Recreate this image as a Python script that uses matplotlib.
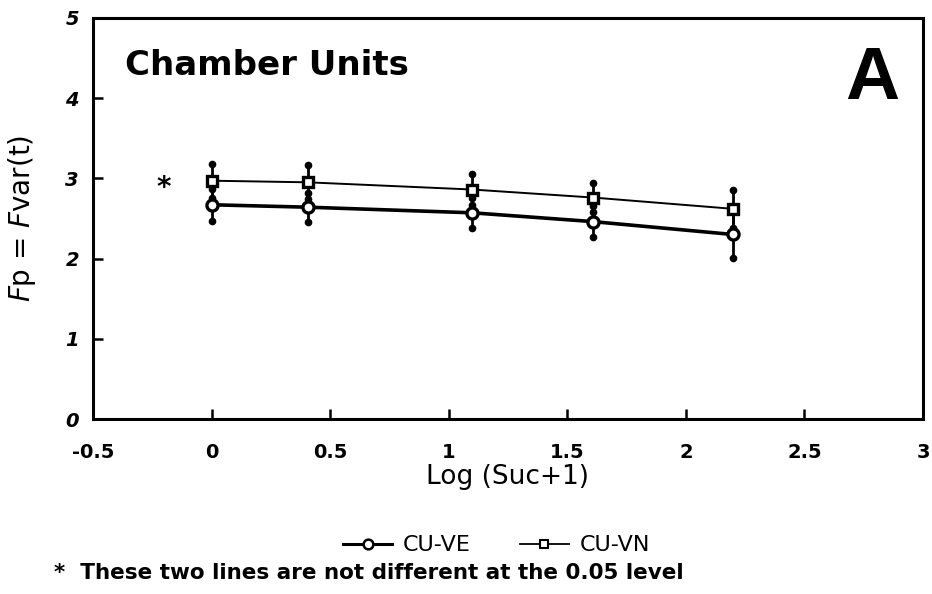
import numpy as np
import matplotlib
matplotlib.use('Agg')
import matplotlib.pyplot as plt
from matplotlib.lines import Line2D

plt.rcParams['font.family'] = ['DejaVu Sans']
plt.rcParams['mathtext.fontset'] = 'dejavusans'

# log(sucrose + 1)
logSuc = [0.0, 0.405, 1.099, 1.609, 2.197]

# CU-VE (circles, heavy line)
veMean = [2.67, 2.64, 2.57, 2.46, 2.30]
veErr = [0.20, 0.18, 0.19, 0.19, 0.29]

# CU-VN (squares, thin line)
vnMean = [2.97, 2.95, 2.86, 2.76, 2.62]
vnErr = [0.21, 0.21, 0.19, 0.18, 0.24]

starX = -0.2
starY = 2.88

fig = plt.figure(figsize=(9.32, 5.94), dpi=100)
ax = fig.add_axes([0.0998, 0.2946, 0.8905, 0.6754])

x = np.array(logSuc)
for mean, err, mk, lw in [(veMean, veErr, 'o', 2.6), (vnMean, vnErr, 's', 1.4)]:
    mean = np.array(mean)
    err = np.array(err)
    ax.errorbar(x, mean, yerr=err, fmt='none', ecolor='black', elinewidth=2.0, capsize=0, zorder=2)
    ax.plot(x, mean + err, 'o', color='black', ms=4.5, zorder=3)
    ax.plot(x, mean - err, 'o', color='black', ms=4.5, zorder=3)
    ax.plot(x, mean, '-', color='black', lw=lw, zorder=4)
    ax.plot(x, mean, mk, mfc='white', mec='black', mew=2.4, ms=8 if mk == 'o' else 7, zorder=5)

ax.text(starX, starY, '*', fontsize=20, fontweight='bold', ha='center', va='center')

ax.text(-0.365, 4.41, 'Chamber Units', fontsize=24.5, fontweight='heavy', ha='left', va='center')
ax.text(2.9, 4.23, 'A', fontsize=54, fontweight='heavy', family='Liberation Sans', ha='right', va='center')

ax.set_xlim(-0.5, 3)
ax.set_ylim(0, 5)
ax.set_xticks([-0.5, 0, 0.5, 1, 1.5, 2, 2.5, 3])
ax.set_xticklabels(['-0.5', '0', '0.5', '1', '1.5', '2', '2.5', '3'], fontweight='bold', fontsize=14)
ax.set_yticks([0, 1, 2, 3, 4, 5])
ax.set_yticklabels(['0', '1', '2', '3', '4', '5'], fontweight='bold', fontstyle='italic', fontsize=14)
ax.tick_params(axis='x', direction='in', length=7, width=1.8, pad=17)
ax.tick_params(axis='y', direction='in', length=7, width=1.8, pad=10)
for s in ax.spines.values():
    s.set_linewidth(2.2)

ax.set_xlabel('Log (Suc+1)', fontsize=19, labelpad=2)
ax.set_ylabel(r'$\mathit{F}$p = $\mathit{F}$var(t)', fontsize=20, labelpad=20)

handles = [Line2D([], [], color='black', lw=2.2, marker='o', mfc='white', mec='black', mew=1.8, ms=7),
           Line2D([], [], color='black', lw=1.3, marker='s', mfc='white', mec='black', mew=1.5, ms=6)]
fig.legend(handles, ['CU-VE', 'CU-VN'], loc='center', bbox_to_anchor=(0.533, 0.082), ncol=2,
           frameon=False, fontsize=16, handlelength=2.2, columnspacing=2.2, handletextpad=0.5)

fig.text(0.058, 0.035, '*  These two lines are not different at the 0.05 level', fontsize=15.5,
         fontweight='bold', ha='left', va='center')

fig.savefig('out.png', dpi=100)
